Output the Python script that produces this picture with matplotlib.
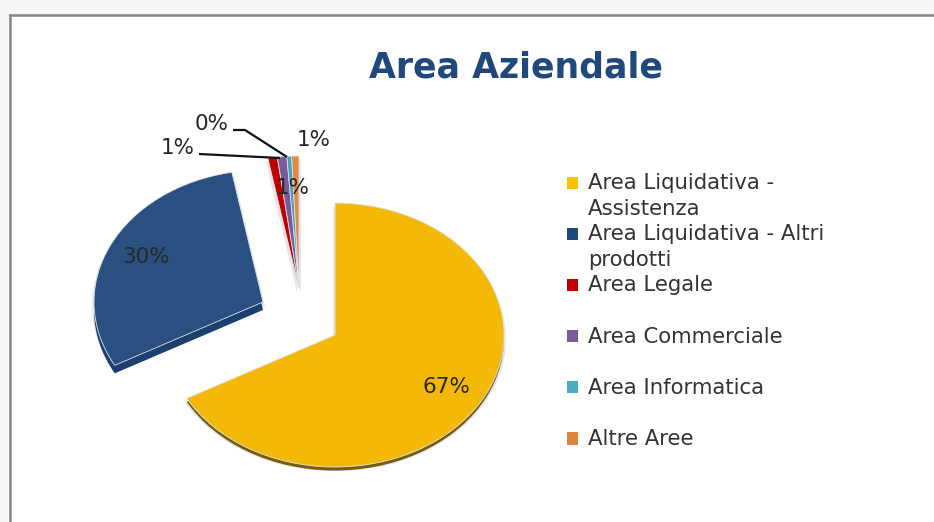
import matplotlib
matplotlib.use("Agg")
import matplotlib.pyplot as plt
from matplotlib.patches import Patch, Polygon

# ---- data ----
title = "Area Aziendale"
categories = ["Area Liquidativa -\nAssistenza", "Area Liquidativa - Altri\nprodotti",
              "Area Legale\n ", "Area Commerciale\n ", "Area Informatica\n ", "Altre Aree\n "]
values = [67.0, 30.0, 0.9, 0.9, 0.45, 0.7]
colors = ["#F4B908", "#2A5082", "#C00000", "#7A5A9A", "#46A0B8", "#E08A46"]
legend_colors = ["#FFC000", "#1F497D", "#C00000", "#7A5A9E", "#4BACC6", "#E0853F"]
depth_colors = ["#7A5C08", "#1B3F70", "#8A1010", "#5A4078", "#30788C", "#A86030"]

W, H = 934, 522
LEFT, TOP = 10, 15
CX, CY, RX, RY = 335, 335, 169, 132

def px(x, y):
    return (x - CX) / RX, (CY - y) / RY

# slice displacement in pixels
shift = [(0, 0), (-72, -33), (-36, -47), (-36, -47), (-36, -47), (-36, -47)]

fig = plt.figure(figsize=(W / 100, H / 100), dpi=100, facecolor="#F6F6F6")
ax = fig.add_axes([LEFT / W, 0, 1 - LEFT / W, 1 - TOP / H])

def layer(cols, dx, dy, alpha=1.0, edge="none", lw=0, zorder=1, autopct=None):
    res = ax.pie(values, colors=cols, startangle=90, counterclock=False, normalize=True,
                 autopct=autopct, wedgeprops=dict(edgecolor=edge, linewidth=lw, alpha=alpha))
    for i, w in enumerate(res[0]):
        w.set_center(px(CX + shift[i][0] + dx, CY + shift[i][1] + dy))
        w.set_zorder(zorder)
    return res

layer(["#909090"] * 6, 2, 4, alpha=0.22, zorder=1)
layer(["#909090"] * 6, -2, 4, alpha=0.22, zorder=1)
depth = layer(depth_colors, 0, 3.5, zorder=2)
for i, w in enumerate(depth[0]):
    if i == 1:
        w.set_center(px(CX + shift[i][0], CY + shift[i][1] + 8))
        band = Polygon([px(263, 300), px(113, 363), px(113, 376), px(266, 312)], transform=ax.transData)
        w.set_clip_path(band)
    if i > 1:
        w.set_visible(False)
top = layer(colors, 0, 0, edge="#DDE4EA", lw=0.6, zorder=3, autopct="%.0f%%")

# pct labels placed where the reference has them
label_pos = [(446, 387), (146, 257), (178, 148), (293, 188), (212, 124), (314, 140)]
for t, p in zip(top[2], label_pos):
    t.set_position(px(*p))
    t.set_fontsize(15.5)
    t.set_color("#262626")
    t.set_zorder(6)
    t.set_ha("center")
    t.set_va("center")

# leader lines
ax.plot(*zip(px(199, 154), px(280, 158)), color="#111111", lw=1.6, zorder=5, solid_capstyle="butt")
ax.plot(*zip(px(233, 130), px(245, 130), px(287, 157)), color="#111111", lw=1.6, zorder=5, solid_capstyle="butt")

ax.set_aspect("auto")
ax.set_xlim(*sorted((px(LEFT, 0)[0], px(W, 0)[0])))
ax.set_ylim(px(0, H)[1], px(0, TOP)[1])
ax.set_frame_on(True)
ax.set_facecolor("white")
for s in ("right", "bottom"):
    ax.spines[s].set_visible(False)
for s in ("left", "top"):
    ax.spines[s].set_color("#858585")
    ax.spines[s].set_linewidth(1.8)
ax.set_xticks([]); ax.set_yticks([])

# title
ax.text(*px(516, 67), title, ha="center", va="center", fontsize=25, fontweight="bold", color="#1F497D")

# legend
handles = [Patch(facecolor=c, edgecolor="none") for c in legend_colors]
leg = ax.legend(handles, categories, loc="upper left", bbox_to_anchor=((567 - LEFT) / (W - LEFT), (522 - 173) / (522 - TOP)),
                frameon=False, fontsize=15.3, handlelength=0.5, handleheight=0.5, handletextpad=0.5,
                labelspacing=0.24, borderpad=0, borderaxespad=0, labelcolor="#333333")
leg.set_zorder(7)
for t in leg.get_texts():
    t.set_linespacing(1.38)
for p in leg.get_patches():
    p.set_y(p.get_y() + 10)

fig.savefig("out.png", dpi=100, facecolor=fig.get_facecolor())
